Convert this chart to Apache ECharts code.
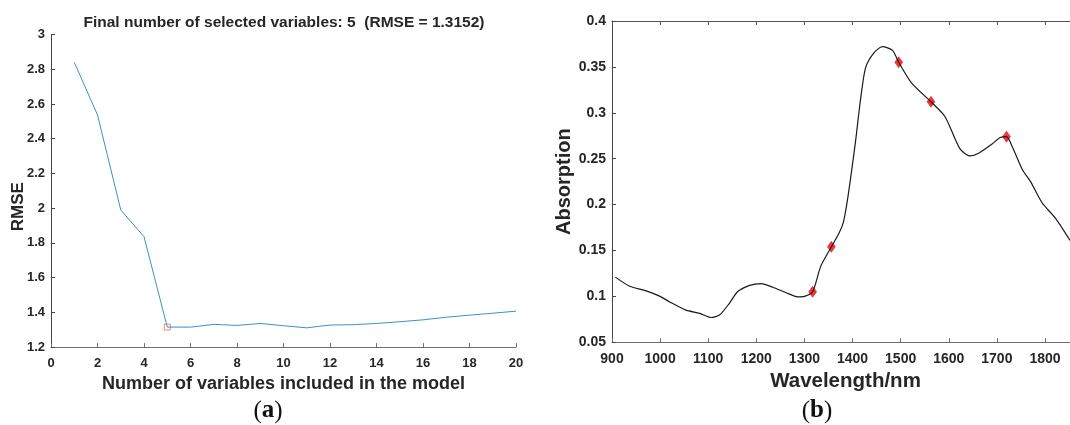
<!DOCTYPE html>
<html>
<head>
<meta charset="utf-8">
<script src="https://cdn.jsdelivr.net/npm/echarts@6/dist/echarts.min.js"></script>
<style>
  html, body { margin: 0; padding: 0; background: #fff; }
  #chart { width: 1070px; height: 425px; }
</style>
</head>
<body>
<div id="chart"></div>
<script>
// (a) RMSE against number of variables
const nVars = [1, 2, 3, 4, 5, 6, 7, 8, 9, 10, 11, 12, 13, 14, 15, 16, 17, 18, 19, 20];
const rmse = [2.840, 2.537, 1.990, 1.836, 1.3152, 1.315, 1.331, 1.325, 1.336, 1.323, 1.311, 1.327, 1.329, 1.336, 1.346, 1.357, 1.372, 1.384, 1.395, 1.407];
const bestN = 5;
const bestRmse = 1.3152;

// (b) spectrum and the selected wavelengths
const wavelength = [907, 937, 971, 1000, 1020, 1054, 1082, 1106, 1124, 1144, 1161, 1186, 1210, 1234, 1262, 1286, 1300,
  1317, 1334, 1356, 1372, 1381, 1390, 1406, 1416, 1427, 1444, 1462, 1483, 1496, 1522, 1563, 1592, 1623, 1644, 1662,
  1690, 1707, 1720, 1732, 1753, 1770, 1794, 1822, 1852];
const absorption = [0.121, 0.111, 0.106, 0.100, 0.094, 0.085, 0.0815, 0.077, 0.080, 0.0925, 0.105, 0.112, 0.114, 0.110, 0.104, 0.0995, 0.100,
  0.105, 0.133, 0.154, 0.169, 0.181, 0.207, 0.268, 0.312, 0.349, 0.365, 0.372, 0.368, 0.355, 0.333, 0.312, 0.296, 0.261, 0.253, 0.256,
  0.266, 0.273, 0.274, 0.263, 0.238, 0.225, 0.202, 0.185, 0.161];
const selectedWl = [1317, 1356, 1496, 1563, 1720];
const selectedAbs = [0.105, 0.154, 0.355, 0.312, 0.274];

const FONT = 'Liberation Sans, Arial, sans-serif';
const TXT = '#262626';

const chart = echarts.init(document.getElementById('chart'), null, { renderer: 'canvas' });

function axisBase(lineColor) {
  return {
    axisLine: { show: true, lineStyle: { color: lineColor, width: 1 } },
    axisTick: { show: true, inside: true, length: 4, lineStyle: { color: lineColor } },
    splitLine: { show: false },
  };
}

const plain = v => String(Math.round(v * 1000) / 1000);

const option = {
  animation: false,
  backgroundColor: '#fff',
  textStyle: { fontFamily: FONT },
  grid: [
    { left: 51, top: 34.5, width: 465, height: 312.6 },
    { left: 612, top: 21, right: 0, height: 321.3 },
  ],
  xAxis: [
    Object.assign(axisBase('#6e6e6e'), {
      gridIndex: 0, type: 'value', min: 0, max: 20, interval: 2,
      axisLabel: { color: TXT, fontWeight: 'bold', fontSize: 13, margin: 10, fontFamily: FONT, formatter: plain },
      name: 'Number of variables included in the model',
      nameLocation: 'middle', nameGap: 28,
      nameTextStyle: { color: TXT, fontWeight: 'bold', fontSize: 18, fontFamily: FONT },
    }),
    Object.assign(axisBase('#6e6e6e'), {
      gridIndex: 1, type: 'value', min: 900, max: 1852, interval: 100,
      axisLabel: { color: TXT, fontWeight: 'bold', fontSize: 14, margin: 10, showMaxLabel: false, fontFamily: FONT, formatter: plain },
      name: 'Wavelength/nm',
      nameLocation: 'middle', nameGap: 29,
      nameTextStyle: { color: TXT, fontWeight: 'bold', fontSize: 20.5, fontFamily: FONT, padding: [0, 0, 0, 9] },
    }),
    Object.assign(axisBase('#555'), {
      gridIndex: 1, type: 'value', min: 900, max: 1852, interval: 100, position: 'top',
      axisLabel: { show: false },
    }),
  ],
  yAxis: [
    Object.assign(axisBase('#444'), {
      gridIndex: 0, type: 'value', min: 1.2, max: 3, interval: 0.2,
      axisLabel: { color: TXT, fontWeight: 'bold', fontSize: 13, margin: 6, fontFamily: FONT, formatter: plain },
    }),
    Object.assign(axisBase('#444'), {
      gridIndex: 1, type: 'value', min: 0.05, max: 0.4, interval: 0.05,
      axisLabel: { color: TXT, fontWeight: 'bold', fontSize: 14, margin: 6, fontFamily: FONT, formatter: plain },
      name: 'Absorption',
      nameLocation: 'middle', nameGap: 36,
      nameTextStyle: { color: TXT, fontWeight: 'bold', fontSize: 20, fontFamily: FONT },
    }),
  ],
  graphic: [
    {
      type: 'text', x: 284, y: 23,
      style: {
        text: 'Final number of selected variables: 5  (RMSE = 1.3152)',
        fill: TXT, font: 'bold 15.5px ' + FONT, textAlign: 'center', textVerticalAlign: 'middle',
      },
    },
    {
      type: 'text', x: 18, y: 206.7, rotation: Math.PI / 2,
      style: {
        text: 'RMSE', fill: TXT, font: 'bold 17px ' + FONT,
        textAlign: 'center', textVerticalAlign: 'middle',
      },
    },
    {
      type: 'text', x: 268, y: 411,
      style: {
        text: '{p|(}{b|a}{p|)}', textAlign: 'center', textVerticalAlign: 'middle',
        rich: {
          p: { font: '25px Liberation Serif, serif', fill: '#111' },
          b: { font: 'bold 25px Liberation Serif, serif', fill: '#111' },
        },
      },
    },
    {
      type: 'text', x: 817, y: 411,
      style: {
        text: '{p|(}{b|b}{p|)}', textAlign: 'center', textVerticalAlign: 'middle',
        rich: {
          p: { font: '25px Liberation Serif, serif', fill: '#111' },
          b: { font: 'bold 25px Liberation Serif, serif', fill: '#111' },
        },
      },
    },
  ],
  series: [
    {
      type: 'line', xAxisIndex: 0, yAxisIndex: 0,
      data: nVars.map((n, i) => [n, rmse[i]]),
      showSymbol: false, symbol: 'none',
      lineStyle: { color: '#3d8fd1', width: 1 },
    },
    {
      type: 'scatter', xAxisIndex: 0, yAxisIndex: 0,
      data: [[bestN, bestRmse]],
      symbol: 'rect', symbolSize: 6,
      itemStyle: { color: 'rgba(0,0,0,0)', borderColor: '#e5703f', borderWidth: 1 },
    },
    {
      type: 'line', xAxisIndex: 1, yAxisIndex: 1,
      data: wavelength.map((w, i) => [w, absorption[i]]),
      smooth: 0.25, showSymbol: false, symbol: 'none',
      lineStyle: { color: '#1a1a1a', width: 1.2 },
    },
    {
      type: 'scatter', xAxisIndex: 1, yAxisIndex: 1,
      data: selectedWl.map((w, i) => [w, selectedAbs[i]]),
      symbol: 'diamond', symbolSize: [8, 11],
      itemStyle: { color: '#ff0000', borderColor: '#8b0000', borderWidth: 0.5 },
    },
  ],
};

chart.setOption(option);
</script>
</body>
</html>
